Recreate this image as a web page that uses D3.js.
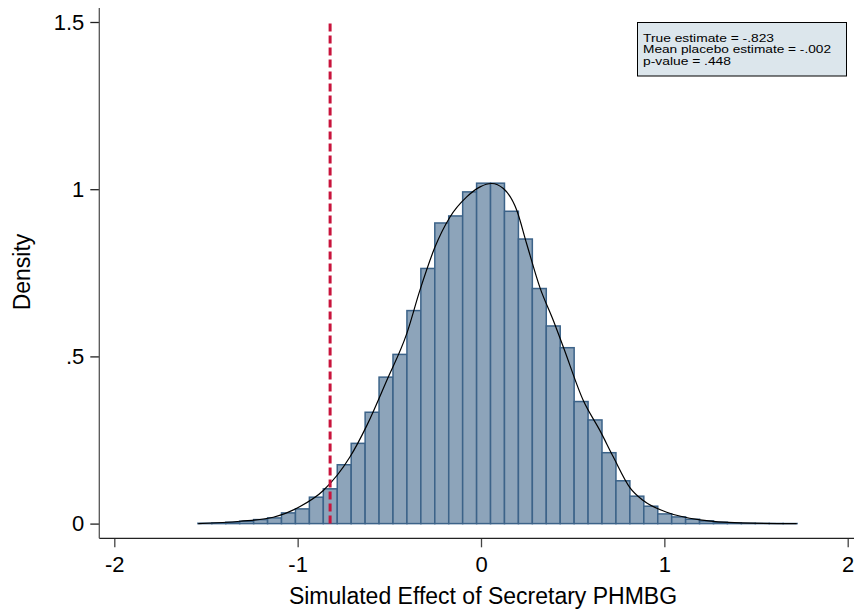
<!DOCTYPE html>
<html>
<head>
<meta charset="utf-8">
<script src="https://cdn.jsdelivr.net/npm/d3@7"></script>
<style>
  html, body { margin: 0; padding: 0; background: #fff; }
  svg { display: block; }
  text { font-family: "Liberation Sans", Arial, sans-serif; }
</style>
</head>
<body>
<svg id="chart" width="854" height="610"></svg>
<script>
// ---- data ----
const binStart = -1.544;
const binWidth = 0.0760;
const densities = [
  0.001, 0.002, 0.004, 0.007, 0.012, 0.017, 0.032, 0.044, 0.079, 0.104,
  0.176, 0.240, 0.333, 0.438, 0.506, 0.637, 0.763, 0.899, 0.920, 0.992,
  1.018, 1.018, 0.934, 0.851, 0.703, 0.591, 0.526, 0.365, 0.310, 0.212,
  0.128, 0.082, 0.052, 0.029, 0.020, 0.013, 0.008, 0.004, 0.002, 0.001,
  0.0006, 0.0004, 0.0002
];
const kdX = [-1.542, -1.314, -1.133, -0.987, -0.860, -0.715, -0.623, -0.514, -0.405, -0.333,
  -0.251, -0.169, -0.078, -0.005, 0.058, 0.122, 0.195, 0.249, 0.322, 0.394,
  0.449, 0.558, 0.649, 0.722, 0.813, 0.885, 1.013, 1.195, 1.413, 1.722];
const kdY = [0.000, 0.007, 0.019, 0.051, 0.099, 0.199, 0.293, 0.428, 0.568, 0.698,
  0.827, 0.917, 0.977, 1.007, 1.017, 1.002, 0.937, 0.837, 0.705, 0.608,
  0.528, 0.368, 0.278, 0.199, 0.107, 0.069, 0.034, 0.011, 0.002, 0.000];
const trueEstimate = -0.823;
const xTicks = [-2, -1, 0, 1, 2];
const xTickLabels = ["-2", "-1", "0", "1", "2"];
const yTicks = [0, 0.5, 1, 1.5];
const yTickLabels = ["0", ".5", "1", "1.5"];
const xTitle = "Simulated Effect of Secretary PHMBG";
const yTitle = "Density";
const noteLines = ["True estimate = -.823", "Mean placebo estimate = -.002", "p-value = .448"];
const noteWidths = [131, 188, 88];

// ---- chart ----
const svg = d3.select("#chart");
const x = d3.scaleLinear().domain([-2, 2]).range([114.3, 847.7]);
const y = d3.scaleLinear().domain([0, 1.5]).range([523.6, 22]);

// bars
svg.append("g").selectAll("rect").data(densities).join("rect")
  .attr("x", (d, i) => x(binStart + i * binWidth))
  .attr("width", (d, i) => x(binStart + (i + 1) * binWidth) - x(binStart + i * binWidth))
  .attr("y", d => y(d))
  .attr("height", d => y(0) - y(d))
  .attr("fill", "#8da4ba")
  .attr("stroke", "#3c6389")
  .attr("stroke-width", 1.5);

// kernel density
const kd = kdX.map((v, i) => [v, kdY[i]]);
svg.append("path").datum(kd)
  .attr("d", d3.line().x(d => x(d[0])).y(d => y(d[1])).curve(d3.curveMonotoneX))
  .attr("fill", "none").attr("stroke", "#000").attr("stroke-width", 1.2);

// true estimate line
svg.append("line")
  .attr("x1", x(trueEstimate)).attr("x2", x(trueEstimate))
  .attr("y1", y(0)).attr("y2", y(1.5))
  .attr("stroke", "#c8143c").attr("stroke-width", 3)
  .attr("stroke-dasharray", "8,4");

// axes
const xAxisY = 538.3;
const yAxisX = 99.3;
const xAxis = d3.axisBottom(x).tickValues(xTicks).tickFormat((d, i) => xTickLabels[i]).tickSize(9).tickPadding(9);
const gx = svg.append("g").attr("transform", `translate(0,${xAxisY})`).call(xAxis);
gx.select(".domain").remove();
gx.append("line").attr("x1", yAxisX).attr("x2", 854).attr("y1", 0).attr("y2", 0)
  .attr("stroke", "#222").attr("stroke-width", 1.3);
gx.selectAll(".tick line").attr("stroke", "#444").attr("stroke-width", 1.3);
gx.selectAll(".tick text").attr("font-size", 22).attr("fill", "#000")
  .attr("font-family", "Liberation Sans, Arial, sans-serif");

const yAxis = d3.axisLeft(y).tickValues(yTicks).tickFormat((d, i) => yTickLabels[i]).tickSize(9).tickPadding(6);
const gy = svg.append("g").attr("transform", `translate(${yAxisX},0)`).call(yAxis);
gy.select(".domain").remove();
gy.append("line").attr("x1", 0).attr("x2", 0).attr("y1", 8).attr("y2", xAxisY)
  .attr("stroke", "#555").attr("stroke-width", 1.3);
gy.selectAll(".tick line").attr("stroke", "#222").attr("stroke-width", 1.3);
gy.selectAll(".tick text").attr("font-size", 22).attr("fill", "#000")
  .attr("font-family", "Liberation Sans, Arial, sans-serif");

// titles
svg.append("text").attr("x", 483).attr("y", 604).attr("text-anchor", "middle")
  .attr("font-size", 23).text(xTitle);
svg.append("text").attr("transform", "translate(30,272) rotate(-90)")
  .attr("text-anchor", "middle").attr("font-size", 23).text(yTitle);

// note box
svg.append("rect").attr("x", 637.5).attr("y", 22.5).attr("width", 209).attr("height", 53.5)
  .attr("fill", "#dce6ec").attr("stroke", "#000").attr("stroke-width", 1);
svg.append("g").selectAll("text").data(noteLines).join("text")
  .attr("x", 643).attr("y", (d, i) => 41.5 + i * 11.7)
  .attr("font-size", 10.2).attr("fill", "#000")
  .attr("textLength", (d, i) => noteWidths[i])
  .attr("lengthAdjust", "spacingAndGlyphs")
  .text(d => d);
</script>
</body>
</html>
